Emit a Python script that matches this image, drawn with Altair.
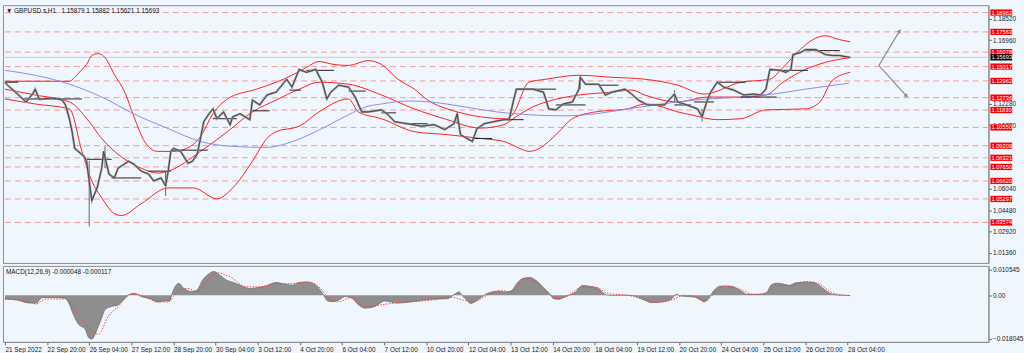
import altair as alt
import pandas as pd

# ---------------- data ----------------
# price path (H1 bar index from 21 Sep 12:00, close-ish price)
close_bar = [0,2,8,16,21,23,26,36,43.5,46,49,51,53,60,62,64,66,70,73.5,75,79,83,86,94,98,103.5,109,113,118.5,122,
             124,126,128,133.5,139,142.5,146,148.5,151,156,158,161,166,171,173,178.5,186,188,193.5,199,206,214,218,
             223.5,229,236,241,244.5,247.5,253.5,261,266,271,276,286,291,296,306,316,326,334,341,343.5,346,351,355,
             358.5,364,371,379,383,386,388.5,394,401,409,411,413,418.5,424,431,436,437,441,451,456,461,471,476,481,
             488,501,508.5,511,518,526,529.5,533,536,541,546,553.5,561,568.5,574,578,581,589,593,597,598.5,604,608,
             616,623,628.5,634,638,642]
close_px = [1.1387,1.1365,1.1314,1.1242,1.1300,1.1336,1.1262,1.1271,1.1256,1.1220,1.1116,1.1024,1.0901,1.0843,
            1.0807,1.0662,1.0517,1.0611,1.0756,1.0879,1.0713,1.0684,1.0756,1.0807,1.0785,1.0734,1.0713,1.0662,
            1.0684,1.0626,1.0734,1.0879,1.0901,1.0879,1.0792,1.0807,1.0858,1.0974,1.1097,1.1169,1.1191,1.1119,
            1.1169,1.1075,1.1133,1.1155,1.1112,1.1256,1.1220,1.1293,1.1314,1.1409,1.1351,1.1481,1.1459,1.1481,
            1.1387,1.1264,1.1314,1.1365,1.1351,1.1278,1.1169,1.1169,1.1184,1.1148,1.1097,1.1082,1.1064,1.1075,
            1.1039,1.1082,1.1155,1.1002,1.0974,1.0952,1.1046,1.1082,1.1097,1.1112,1.1112,1.1242,1.1336,1.1336,
            1.1336,1.1314,1.1256,1.1191,1.1184,1.1227,1.1242,1.1336,1.1423,1.1372,1.1372,1.1293,1.1314,1.1336,
            1.1300,1.1256,1.1220,1.1220,1.1300,1.1242,1.1220,1.1191,1.1133,1.1242,1.1314,1.1387,1.1351,1.1329,
            1.1293,1.1300,1.1293,1.1336,1.1481,1.1474,1.1459,1.1481,1.1590,1.1604,1.1626,1.1626,1.1590,1.1583,
            1.1583,1.1575,1.1569]

wick_bar = [64, 122, 76, 529.5, 343.5, 437, 508.5]
wick_low = [1.0328, 1.0553, 1.0756, 1.1097, 1.1082, 1.1336, 1.1242]
wick_high = [1.0807, 1.0734, 1.0916, 1.1191, 1.1169, 1.1438, 1.1329]

# black horizontal segments (start bar, end bar, price)
seg_start = [0,13.5,61,81,109,126,158,188,216,229,261,286,304,356,383,396,418.5,451,508.5,523.5,541,559,581,608]
seg_end = [10,58.5,81,103.5,126,154,176,201,225,250,274,297,321,370,394,418.5,441,466,521,538.5,562.5,586,610,634]
seg_px = [1.1387,1.1264,1.0821,1.0684,1.0734,1.0888,1.1119,1.1177,1.1329,1.1474,1.1322,1.1162,1.1082,1.0974,
          1.1112,1.1336,1.1220,1.1365,1.1220,1.1242,1.1387,1.1278,1.1474,1.1619]

band_upper = [(0,1.1394),(23,1.1394),(49,1.1394),(53,1.1423),(58.5,1.1481),(62,1.1517),(66,1.1583),(71,1.1597),
              (76,1.1568),(83,1.1445),(91,1.1314),(98,1.1133),(106,1.0952),(116,1.0879),(128,1.0879),(141,1.0916),
              (148.5,1.0988),(158,1.1155),(169,1.1264),(191,1.1336),(206,1.1387),(218,1.1438),(229,1.1496),
              (238.5,1.1539),(250,1.1517),(261,1.1510),(276,1.1546),(286,1.1517),(298.5,1.1409),(311,1.1336),
              (321,1.1256),(336,1.1191),(343.5,1.1169),(361,1.1133),(381,1.1119),(386,1.1155),(398,1.1387),
              (411,1.1409),(436,1.1438),(461,1.1423),(486,1.1409),(511,1.1365),(531,1.1300),(559,1.1387),
              (581,1.1409),(591,1.1496),(604,1.1626),(613.5,1.1699),(623,1.1728),(634,1.1699),(642,1.1684)]
band_middle = [(0,1.1336),(23,1.1293),(49,1.1242),(64,1.1097),(73.5,1.0974),(86,1.0857),(103.5,1.0756),
               (116,1.0720),(124,1.0734),(148.5,1.0879),(169,1.1024),(188,1.1169),(206,1.1256),(223.5,1.1336),
               (238.5,1.1387),(261,1.1372),(286,1.1293),(311,1.1191),(336,1.1112),(361,1.1050),(379,1.1075),
               (386,1.1119),(401,1.1206),(411,1.1242),(436,1.1293),(461,1.1314),(476,1.1329),(486,1.1293),
               (511,1.1242),(533,1.1278),(559,1.1278),(578,1.1293),(591,1.1387),(608,1.1481),(623,1.1532),
               (642,1.1568)]
band_lower = [(0,1.1264),(23,1.1227),(49,1.1191),(58.5,1.0879),(66,1.0662),(73.5,1.0539),(83,1.0423),
              (88.5,1.0408),(103.5,1.0495),(124,1.0611),(143,1.0611),(161,1.0531),(173,1.0611),(188,1.0807),
              (199,1.0974),(206,1.1024),(223.5,1.1064),(238.5,1.1169),(261,1.1264),(268.5,1.1169),(286,1.1119),
              (311,1.1024),(336,1.1002),(361,1.0974),(379,1.0952),(391,1.0901),(398,1.0879),(406,1.0901),
              (418.5,1.1002),(431,1.1119),(448.5,1.1169),(473,1.1191),(486,1.1227),(499,1.1206),(511,1.1169),
              (521,1.1148),(541,1.1112),(559,1.1119),(578,1.1184),(608,1.1191),(619,1.1242),(628.5,1.1401),
              (642,1.1459)]
slow_ma = [(0,1.1474),(23,1.1438),(49,1.1372),(73.5,1.1278),(98,1.1154),(124,1.1046),(148.5,1.0952),(173,1.0916),
           (199,1.0908),(214,1.0937),(236,1.1024),(261,1.1148),(274,1.1206),(286,1.1227),(306,1.1249),(323,1.1242),
           (349,1.1206),(373.5,1.1169),(398,1.1148),(424,1.1140),(448.5,1.1155),(473,1.1191),(499,1.1227),
           (523.5,1.1256),(559,1.1278),(583.5,1.1300),(608,1.1336),(641,1.1380)]

level_px = [1.18982,1.17563,1.16078,1.15017,1.13962,1.12736,1.11830,1.10550,1.09209,1.08321,1.07650,1.06620,
            1.05297,1.03574]
current_px = 1.15693
y_ticks = [1.0136, 1.0292, 1.0448, 1.0604, 1.1072, 1.1228, 1.1696, 1.1852]

arrow_a = [(663.75,1.1510),(679.5,1.1764)]
arrow_b = [(663.75,1.1510),(684.75,1.1285)]

hist_bar = [0,9,18.5,23.5,28.5,36,46,48.5,52,56,61,63.5,66,68.5,71,73.5,76,81,86,90,95,98.5,103.5,111,116,121,
            125,127,130,132,136,142,146,150,155,158.5,163.5,168.5,173.5,178.5,186,191,198.5,206,213.5,218.5,
            223.5,228.5,236,242,245,248.5,253.5,258.5,263.5,268.5,273.5,281,288.5,293.5,298.5,308.5,323.5,336,
            342,345,347,351,353.5,358.5,366,373.5,381,385,388.5,393.5,398.5,403.5,408.5,413.5,417,421,426,433.5,
            438.5,443.5,451,455,458.5,473.5,478.5,486,491,498.5,506,510,513.5,523.5,528.5,531,535,538.5,543.5,
            551,558.5,563.5,573.5,578.5,582,586,591,596,600,606,613.5,618.5,623.5,628.5,636,642]
hist_val = [-0.0015,-0.0019,-0.0032,-0.0032,-0.0009,-0.0009,-0.0012,-0.0032,-0.0080,-0.0120,-0.0140,-0.0174,
            -0.0181,-0.0161,-0.0127,-0.0093,-0.0059,-0.0046,-0.0039,-0.0019,0.0005,0.0008,-0.0005,-0.0015,-0.0028,
            -0.0023,-0.0023,0.0008,0.0042,0.0049,0.0028,0.0015,0.0022,0.0062,0.0089,0.0099,0.0082,0.0062,0.0053,
            0.0042,0.0028,0.0031,0.0039,0.0053,0.0045,0.0042,0.0053,0.0055,0.0042,0.0001,-0.0023,-0.0026,-0.0019,
            -0.0005,-0.0012,-0.0039,-0.0053,-0.0046,-0.0023,-0.0028,-0.0032,-0.0027,-0.0016,-0.0014,0.0007,0.0014,
            0,-0.0020,-0.0034,-0.0020,0.0007,0.0016,0.0014,0.0020,0.0047,0.0070,0.0074,0.0061,0.0034,0.0007,
            -0.0014,-0.0016,-0.0004,0.0014,0.0041,0.0038,0.0027,0.0007,0,0,-0.0003,-0.0020,-0.0030,-0.0027,
            -0.0016,0.0004,-0.0003,-0.0007,-0.0020,-0.0027,-0.0007,0.0020,0.0038,0.0038,0.0020,0.0004,0.0004,
            0.0011,0.0043,0.0050,0.0047,0.0041,0.0051,0.0054,0.0054,0.0041,0.0020,0.0004,0,-0.00005]
sig_bar = [0,18.5,23.5,31,46,53.5,63.5,71,78.5,86,96,103.5,113.5,123.5,131,138.5,146,153.5,161,171,183.5,193.5,
           206,218.5,231,238.5,246,253.5,263.5,273.5,286,298.5,323.5,338.5,348.5,356,366,376,386,393.5,403.5,411,
           418.5,426,438.5,448.5,458.5,473.5,486,493.5,506,516,523.5,532,538.5,546,556,568.5,578.5,586,596,608.5,
           618.5,628.5,641]
sig_val = [-0.0016,-0.0026,-0.0036,-0.0015,-0.0015,-0.0066,-0.0134,-0.0161,-0.0086,-0.0046,0.0005,0.0001,-0.0023,
           -0.0028,0.0015,0.0028,0.0015,0.0062,0.0093,0.0076,0.0035,0.0035,0.0049,0.0049,0.0055,0.0035,-0.0012,
           -0.0026,-0.0009,-0.0046,-0.0039,-0.0030,-0.0020,-0.0007,-0.0020,-0.0027,0,0.0020,0.0014,0.0068,0.0054,
           0.0020,-0.0014,-0.0007,0.0034,0.0034,0.0007,0,-0.0020,-0.0030,-0.0020,0,-0.0004,-0.0024,0.0007,0.0038,
           0.0030,0.0004,0.0011,0.0041,0.0041,0.0057,0.0047,0.0011,-0.0001]
macd_ticks = [0.010545, 0.0, -0.018045]

x_tick_labels = ["21 Sep 2022","22 Sep 20:00","26 Sep 04:00","27 Sep 12:00","28 Sep 20:00","30 Sep 04:00",
                 "3 Oct 12:00","4 Oct 20:00","6 Oct 04:00","7 Oct 12:00","10 Oct 20:00","12 Oct 04:00",
                 "13 Oct 12:00","14 Oct 20:00","18 Oct 04:00","19 Oct 12:00","20 Oct 20:00","24 Oct 04:00",
                 "25 Oct 12:00","26 Oct 20:00","28 Oct 04:00"]
header = "\u25bc GBPUSD.s,H1\u00a0\u00a0 1.15879\u00a01.15882\u00a01.15621\u00a01.15693"
macd_header = "MACD(12,26,9) -0.000048 -0.000117"

# ---------------- build ----------------
FONT = "Liberation Sans"
W = 998
xs = alt.Scale(domain=[-1.5, 747], nice=False, zero=False)
ys = alt.Scale(domain=[1.00602, 1.19524], nice=False, zero=False)
yaxis = alt.Axis(orient="right", values=y_ticks, format=".5f", title=None, grid=False, labelFontSize=6.5,
                 labelFont=FONT, labelColor="#222", tickSize=3, tickColor="#666", domainColor="#888",
                 labelPadding=1)

def X(f="bar"):
    return alt.X(f"{f}:Q", scale=xs, axis=None)

def Y(f="price"):
    return alt.Y(f"{f}:Q", scale=ys, axis=yaxis)

price_df = pd.DataFrame({"bar": close_bar, "price": close_px})
wick_df = pd.DataFrame({"bar": wick_bar, "lo": wick_low, "hi": wick_high})
seg_df = pd.DataFrame({"s": seg_start, "e": seg_end, "price": seg_px})
rows = []
for name, pts in [("upper", band_upper), ("middle", band_middle), ("lower", band_lower)]:
    for b, p in pts:
        rows.append({"bar": b, "price": p, "series": name})
band_df = pd.DataFrame(rows)
ma_df = pd.DataFrame(slow_ma, columns=["bar", "price"])
lvl_df = pd.DataFrame({"price": level_px})
cur_df = pd.DataFrame({"price": [current_px]})
arr_rows = [{"bar": b, "price": p, "id": "a"} for b, p in arrow_a] + \
           [{"bar": b, "price": p, "id": "b"} for b, p in arrow_b]
arr_df = pd.DataFrame(arr_rows)
one = pd.DataFrame({"k": [0]})

levels = alt.Chart(lvl_df).mark_rule(color="#F39A9A", strokeDash=[6, 4], strokeWidth=1).encode(y=Y())
curline = alt.Chart(cur_df).mark_rule(color="#C5CDD6", strokeWidth=1).encode(y=Y())
segs = alt.Chart(seg_df).mark_rule(color="#202020", strokeWidth=1).encode(x=X("s"), x2="e:Q", y=Y())
bands = alt.Chart(band_df).mark_line(color="#FF1E1E", strokeWidth=1, interpolate="monotone").encode(
    x=X(), y=Y(), detail="series:N")
ma = alt.Chart(ma_df).mark_line(color="#8A8AF0", strokeWidth=1, interpolate="monotone").encode(x=X(), y=Y())
wicks = alt.Chart(wick_df).mark_rule(color="#666", strokeWidth=1).encode(x=X(), y=Y("lo"), y2="hi:Q")
price_thick = alt.Chart(price_df).mark_line(color="#9a9a9a", strokeWidth=2.2).encode(x=X(), y=Y())
price_thin = alt.Chart(price_df).mark_line(color="#303030", strokeWidth=0.8).encode(x=X(), y=Y())
arrows = alt.Chart(arr_df).mark_line(color="#8c8c8c", strokeWidth=1.2).encode(x=X(), y=Y(), detail="id:N")
head_a = alt.Chart(pd.DataFrame([arrow_a[1]], columns=["bar", "price"])).mark_point(
    shape="triangle-up", filled=True, color="#8c8c8c", size=22, angle=31, opacity=1).encode(x=X(), y=Y())
head_b = alt.Chart(pd.DataFrame([arrow_b[1]], columns=["bar", "price"])).mark_point(
    shape="triangle-up", filled=True, color="#8c8c8c", size=22, angle=138, opacity=1).encode(x=X(), y=Y())

lbl_rect = alt.Chart(lvl_df).transform_calculate(lo="datum.price - 0.0023", hi="datum.price + 0.0023").mark_rect(
    color="#FF0000").encode(x=alt.value(W + 2), x2=alt.value(W + 24), y=Y("lo"), y2="hi:Q")
lbl_text = alt.Chart(lvl_df).mark_text(align="left", baseline="middle", color="white", fontSize=5.8,
                                       font=FONT).encode(
    x=alt.value(W + 3), y=Y(), text=alt.Text("price:Q", format=".5f"))
cur_rect = alt.Chart(cur_df).transform_calculate(lo="datum.price - 0.0023", hi="datum.price + 0.0023").mark_rect(
    color="#000000").encode(x=alt.value(W + 2), x2=alt.value(W + 24), y=Y("lo"), y2="hi:Q")
cur_text = alt.Chart(cur_df).mark_text(align="left", baseline="middle", color="white", fontSize=5.8,
                                       font=FONT).encode(
    x=alt.value(W + 3), y=Y(), text=alt.Text("price:Q", format=".5f"))
title = alt.Chart(one).mark_text(align="left", baseline="top", fontSize=6.5, font=FONT, color="#111").encode(
    x=alt.value(3), y=alt.value(3), text=alt.value(header))

main = alt.layer(levels, curline, bands, ma, segs, wicks, price_thick, price_thin, arrows, head_a, head_b,
                 lbl_rect, lbl_text, cur_rect, cur_text, title).properties(width=W, height=261)

# MACD panel
ms = alt.Scale(domain=[-0.01926, 0.01217], nice=False, zero=False)
label_arr = "[" + ",".join("'" + s + "'" for s in x_tick_labels) + "]"
xaxis = alt.Axis(values=[32 * i for i in range(len(x_tick_labels))], labelExpr=label_arr + "[round(datum.value/32)]",
                 title=None, grid=False, labelFontSize=6.5, labelFont=FONT, labelColor="#222", labelAlign="left",
                 labelPadding=2, tickSize=3, tickColor="#666", domainColor="#888", labelFlush=False,
                 labelOverlap=False)
maxis = alt.Axis(orient="right", values=macd_ticks, title=None, grid=False, labelFontSize=6.5, labelFont=FONT,
                 labelColor="#222", tickSize=3, tickColor="#666", domainColor="#888", labelPadding=1,
                 labelExpr="datum.value == 0 ? '0.00' : format(datum.value, '.6f')")
hist_df = pd.DataFrame({"bar": hist_bar, "v": hist_val})
sig_df = pd.DataFrame({"bar": sig_bar, "v": sig_val})
hist = alt.Chart(hist_df).mark_area(color="#8e8e8e", interpolate="monotone", opacity=1,
                                    line={"color": "#6e6e6e", "strokeWidth": 0.8}).encode(
    x=alt.X("bar:Q", scale=xs, axis=xaxis), y=alt.Y("v:Q", scale=ms, axis=maxis), y2=alt.datum(0))
sig = alt.Chart(sig_df).mark_line(color="#FF3C3C", strokeWidth=1, strokeDash=[1.5, 1.5],
                                  interpolate="monotone").encode(
    x=alt.X("bar:Q", scale=xs, axis=xaxis), y=alt.Y("v:Q", scale=ms, axis=maxis))
mtitle = alt.Chart(one).mark_text(align="left", baseline="top", fontSize=6.5, font=FONT, color="#111").encode(
    x=alt.value(3), y=alt.value(3), text=alt.value(macd_header))
macd = alt.layer(hist, sig, mtitle).properties(width=W, height=77)

chart = alt.vconcat(main, macd, spacing=1).properties(
    padding={"left": 0, "top": 2, "right": 0, "bottom": 0}, background="#F0F6FD"
).configure_view(stroke="#8a8a8a", strokeWidth=1).configure_concat(spacing=1)

chart.save("out.html", embed_options={"renderer": "svg", "actions": False})
